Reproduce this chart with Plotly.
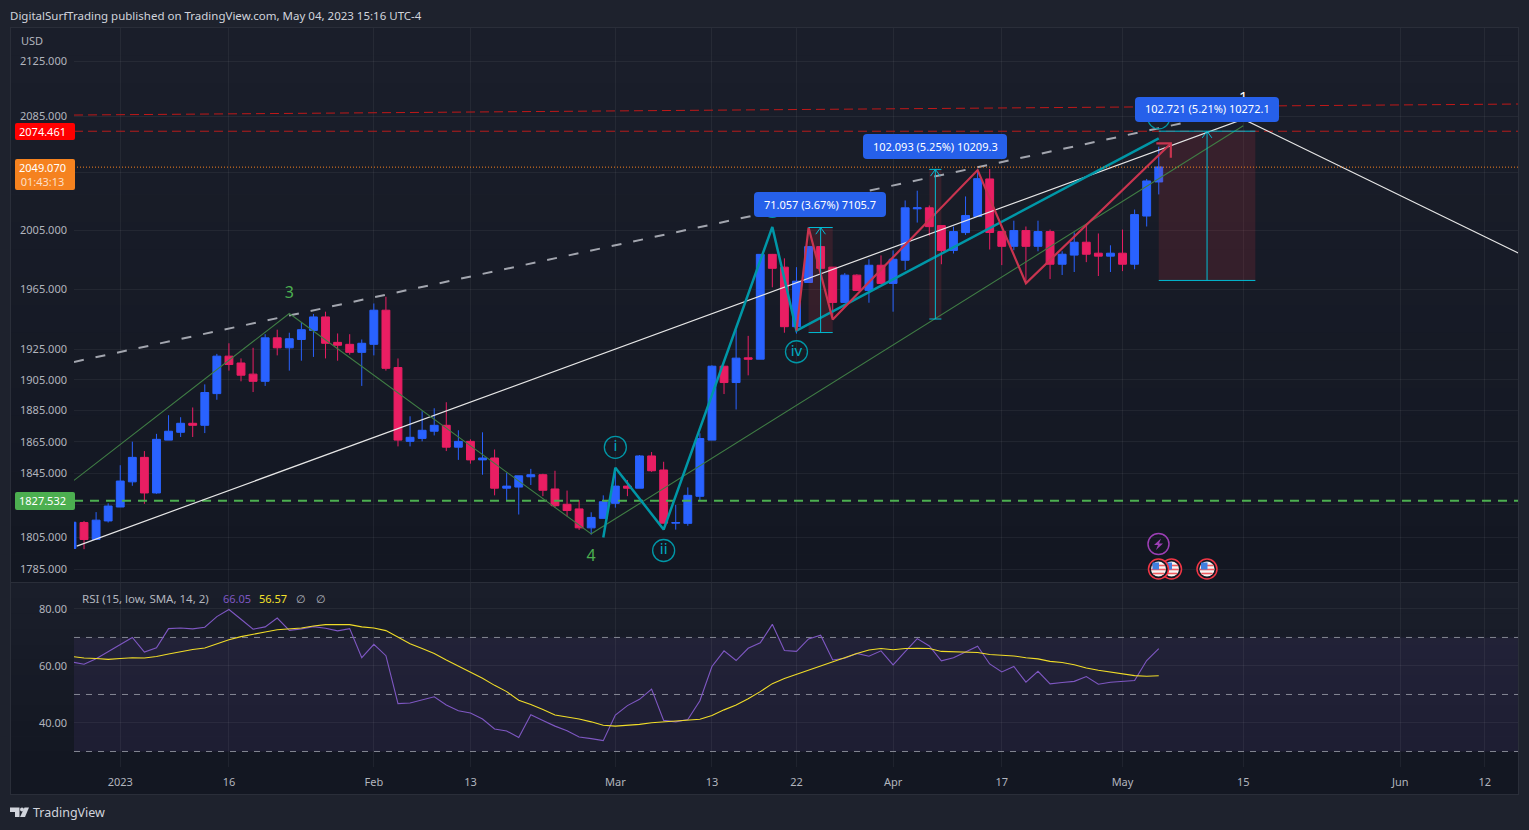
import math
import plotly.graph_objects as go
from plotly.subplots import make_subplots

W, H = 1529, 830
FONT = "Noto Sans"

# price bars, session 0 is the first bar of 2023
sessions = list(range(-4, 87))
opens = [1798, 1814, 1803.5, 1815, 1823.7, 1839.5, 1855, 1832.5, 1866, 1871, 1876.8, 1875.5, 1896, 1920.5, 1916,
         1908.7, 1904, 1932.6, 1926, 1931.5, 1937.5, 1946.5, 1929.6, 1928.3, 1923, 1928.3, 1951, 1913,
         1865.2, 1867.1, 1871.7, 1875.5, 1861.5, 1865.2, 1853.4, 1854.6, 1835.5, 1836.2, 1842.7, 1844, 1835,
         1825.4, 1822.5, 1810.7, 1816.6, 1826, 1836.8, 1835.5, 1855.9, 1847, 1813.6, 1813.5, 1830.4,
         1866, 1913.9, 1903.2, 1919.4, 1918.5, 1988.7, 1980, 1940, 1969.6, 1994, 1980, 1956.2, 1974.6, 1964.3,
         1981.3, 1969, 1984.7, 2020, 2020.7, 2008.4, 1991.4, 2003.6, 2014.7, 2040.8, 2004.3, 1994.2, 2005,
         1994.2, 2004.3, 1982, 1988.2, 1997, 1989.5, 1987.5, 1989.5, 1982, 2015, 2038.7]
highs = [1814.2, 1815, 1820.5, 1826, 1850, 1865, 1859, 1870, 1882, 1880.7, 1887, 1902, 1922, 1929, 1919,
         1926, 1935, 1938, 1936, 1943, 1948.5, 1950, 1935.5, 1935, 1931.5, 1955.5, 1960, 1919,
         1881.3, 1884.6, 1886.5, 1890.4, 1872.3, 1866.5, 1871, 1860, 1845.2, 1843.3, 1847.7, 1844.6, 1846.5,
         1834, 1828, 1820.4, 1831, 1846.5, 1840.6, 1856.5, 1858.4, 1852.2, 1825, 1836, 1870.4,
         1914.5, 1913.9, 1938, 1933.9, 1988.7, 1989, 1986, 1980, 1994, 1994, 1980, 1976, 1975.2, 1985.4,
         1988, 1991.4, 2025.8, 2032.6, 2022.3, 2008.4, 2007.7, 2028.6, 2047.7, 2047.8, 2004.3, 2011.8, 2007.8,
         2011.8, 2005.7, 1990.8, 2003.7, 2008.4, 2003, 1994.9, 2005.7, 2019.5, 2040.8, 2063.5]
lows = [1798, 1797.5, 1803.5, 1814, 1823.7, 1837, 1825.7, 1832, 1866, 1868, 1868, 1870.5, 1892, 1911, 1904,
        1897, 1901, 1921, 1911, 1917.5, 1920, 1919, 1917.5, 1921.5, 1901, 1921, 1911, 1862,
        1862, 1865.2, 1869, 1859, 1853.4, 1851, 1844, 1831, 1827.8, 1819, 1837.5, 1830.5, 1823.3,
        1817.8, 1809.4, 1806.5, 1816.6, 1823.3, 1830.5, 1835.5, 1845.8, 1813.6, 1809.6, 1812, 1827.8,
        1866, 1895.7, 1885.7, 1907.9, 1918.5, 1966.4, 1936, 1935.4, 1969.6, 1979.2, 1944.7, 1956.2, 1964.3, 1956,
        1969, 1950, 1978, 2010.5, 2001.5, 1982, 1989.3, 2002, 2014.7, 1992, 1981.4, 1991.5, 1969.3,
        1990.8, 1972, 1974.7, 1976.7, 1983.4, 1974, 1976.7, 1977.3, 1978.6, 2007.8, 2030]
closes = [1814.2, 1803.5, 1815.5, 1824.3, 1840, 1855, 1832.5, 1866.5, 1871.7, 1876.8, 1875.5, 1896.7, 1920.5, 1915, 1908,
          1904, 1932.6, 1926, 1932, 1938, 1946.5, 1929, 1927.7, 1923, 1929, 1951, 1912.5, 1866,
          1867.8, 1872.3, 1875.5, 1861.5, 1865.2, 1853.4, 1854.6, 1835.5, 1836.8, 1843.3, 1844, 1834.2, 1824.5,
          1821.5, 1810.7, 1817.2, 1827, 1836.8, 1835.5, 1855.9, 1846.5, 1813.6, 1814, 1831, 1867,
          1913.9, 1903.2, 1919.2, 1918.5, 1988.7, 1979.2, 1940, 1970.5, 1994, 1979.2, 1956.2, 1974.6, 1964.3, 1981.3,
          1969, 1985.4, 2020.7, 2020.7, 2007.7, 1991.4, 2004.3, 2015.4, 2041, 2003.7, 1994.2, 2005, 1994.2,
          2004.3, 1982, 1988.8, 1997, 1988.8, 1987.5, 1989.5, 1982, 2016, 2039.4, 2049.2]

# RSI pane
rsi_values = [61.4, 60.6, 62.5, 65, 67.5, 70, 64.9, 66.4, 73.1, 73.3, 73, 73.6, 77.3, 79.8, 76.4, 72.9, 73.7, 76.8,
              72.5, 73, 73.8, 73.2, 72.3, 73.1, 62.9, 67.6, 63.6, 46.8, 47, 48, 49.2, 46.3, 44.3, 43.5, 41.4, 37.9,
              37.2, 34.9, 42.9, 40.9, 38.9, 37.3, 35.1, 34.5, 33.8, 42.8, 46.1, 48.3, 51.9, 40.9, 40.4, 41.2, 47.8,
              59.8, 65.3, 61.9, 66.2, 68.1, 74.6, 65.4, 65.1, 69.5, 70.8, 62.1, 62.7, 64.4, 63.4, 65.3, 60.4, 65,
              69.6, 67, 61.8, 62.9, 64.9, 66.9, 60.7, 57.9, 59.8, 54.3, 58.1, 53.7, 54.2, 54.6, 56.3, 53.6, 54.3,
              54.5, 54.9, 61.9, 66.05]
rsi_signal = [63.3, 62.8, 62.6, 62.3, 62.6, 62.9, 62.8, 63.3, 64.2, 65, 65.8, 66.3, 67.7, 69.2, 70.3, 71.2, 71.9,
              72.7, 73.1, 73.3, 74, 74.5, 74.5, 74.5, 73.7, 73.3, 72.4, 70.2, 67.8, 66.1, 64.4, 62.1, 60, 58, 55.7,
              53.2, 51, 48, 46.5, 44.7, 42.8, 42.1, 41.4, 40.4, 39.2, 38.9, 39.2, 39.5, 40.1, 40.4, 40.5, 40.9, 41.3,
              42.6, 44.6, 46.3, 48.5, 51, 53.8, 55.6, 57.1, 58.6, 60, 61.5, 62.9, 64.4, 65.6, 66.1, 65.7, 66.1, 66.2,
              66.1, 65.1, 64.9, 64.9, 64.7, 64, 63.7, 63.5, 62.9, 62.5, 61.6, 61.2, 60.4, 59.3, 58.5, 57.9, 57.3,
              56.6, 56.4, 56.57]
rsi_levels = [70, 50, 30]

# axes
price_ticks = [2125, 2085, 2045, 2005, 1965, 1925, 1905, 1885, 1865, 1845, 1825, 1805, 1785]
price_labels = ["2125.000", "2085.000", "", "2005.000", "1965.000", "1925.000", "1905.000", "1885.000",
                "1865.000", "1845.000", "", "1805.000", "1785.000"]
rsi_ticks = [80, 60, 40]
rsi_labels = ["80.00", "60.00", "40.00"]
time_ticks = [0, 9, 21, 29, 41, 49, 56, 64, 73, 83, 93, 106, 113]
time_labels = ["2023", "16", "Feb", "13", "Mar", "13", "22", "Apr", "17", "May", "15", "Jun", "12"]
x_range = [-3.83, 115.75]
y_range = [1777.4, 2149.2]
rsi_range = [24.56, 89.1]

# drawings on the price pane
last_price = 2049.07
resistance = 2074.461
support = 1827.532
upper_red_x, upper_red_y = [-3.83, 115.75], [2086, 2093.9]
white_x, white_y = [-3.6, 93, 115.8], [1799.4, 2083.1, 1989.5]
grey_x, grey_y = [-3.83, 93], [1916.7, 2089.6]
green_x, green_y = [-3.83, 14, 39, 93], [1840.4, 1948.8, 1807, 2078.3]
teal_x, teal_y = [40, 41, 45, 54, 56, 86], [1804.7, 1848.4, 1809.7, 2007.5, 1937.4, 2069.4]
red_x, red_y = [56, 57, 59, 71, 75, 87], [1937.4, 2007.1, 1944.8, 2047, 1969.1, 2065.8]
red_head_x, red_head_y = [85.8, 87, 87], [2065.8, 2065.8, 2055.6]
measure_left = [57, 67, 86]
measure_right = [59, 68, 94]
measure_top = [2007.1, 2047.5, 2074.5]
measure_bottom = [1936.1, 1945.1, 1971.0]
measure_text = ["71.057 (3.67%) 7105.7", "102.093 (5.25%) 10209.3", "102.721 (5.21%) 10272.1"]
circle_x = [41, 45, 56, 54, 86]
circle_y = [1861.4, 1796.7, 1923.4, 2021.8, 2084]
circle_text = ["i", "ii", "iv", "", ""]
wave_x = [14, 39]
wave_y = [1961.8, 1793]
wave_text = ["3", "4"]

BG_OUT = "#1e222d"
BORDER = "#2a2e39"
GRID = "rgba(255,255,255,0.055)"
AXIS_TEXT = "#b2b5be"
UP = "#2962ff"
DOWN = "#e91e63"
TEAL = "#0097a7"
CYAN = "#00bcd4"
CALLOUT = "#2660ea"


def fx(x):
    return x / W


def fy(y):
    return 1 - y / H


def mix(c0, c1, t):
    return "rgb(%d,%d,%d)" % tuple(round(a + (b - a) * t) for a, b in zip(c0, c1))


def rounded(x0, y0, x1, y1, r):
    # path in pixels, turned into paper fractions
    pts = [
        f"M{fx(x0 + r)},{fy(y0)}", f"L{fx(x1 - r)},{fy(y0)}", f"Q{fx(x1)},{fy(y0)} {fx(x1)},{fy(y0 + r)}",
        f"L{fx(x1)},{fy(y1 - r)}", f"Q{fx(x1)},{fy(y1)} {fx(x1 - r)},{fy(y1)}", f"L{fx(x0 + r)},{fy(y1)}",
        f"Q{fx(x0)},{fy(y1)} {fx(x0)},{fy(y1 - r)}", f"L{fx(x0)},{fy(y0 + r)}", f"Q{fx(x0)},{fy(y0)} {fx(x0 + r)},{fy(y0)}", "Z",
    ]
    return " ".join(pts)


def paper_rect(x0, y0, x1, y1, color, layer="below"):
    return dict(type="rect", xref="paper", yref="paper", x0=fx(x0), x1=fx(x1), y0=fy(y1), y1=fy(y0),
                fillcolor=color, line_width=0, layer=layer)


def paper_line(x0, y0, x1, y1, color, width=1):
    return dict(type="line", xref="paper", yref="paper", x0=fx(x0), x1=fx(x1), y0=fy(y0), y1=fy(y1),
                line=dict(color=color, width=width), layer="above")


def label(x, y, text, color=AXIS_TEXT, size=11, anchor="left", **kw):
    return dict(xref="paper", yref="paper", x=fx(x), y=fy(y), text=text, showarrow=False, xanchor=anchor,
                yanchor="middle", font=dict(family=FONT, size=size, color=color), **kw)


fig = make_subplots(rows=2, cols=1)

shapes = []
annotations = []

# frame and the two pane gradients
shapes.append(paper_rect(10, 27, 1519, 795, BORDER))
top_col, bottom_col = (26, 30, 42), (19, 23, 34)
for n in range(20):
    y0 = 28 + n * (582 - 28) / 20
    shapes.append(paper_rect(11, y0, 1518, y0 + (582 - 28) / 20 + 0.5, mix(top_col, bottom_col, n / 19)))
for n in range(12):
    y0 = 583 + n * (767 - 583) / 12
    shapes.append(paper_rect(11, y0, 1518, y0 + (767 - 583) / 12 + 0.5, mix(top_col, bottom_col, n / 11)))
shapes.append(paper_rect(11, 767, 1518, 794, "rgb(19,23,34)"))
shapes.append(paper_rect(11, 582, 1518, 583, BORDER))


def add_line(xs, ys, color, width=1, dash=None, row=1):
    fig.add_trace(go.Scatter(x=xs, y=ys, mode="lines", line=dict(color=color, width=width, dash=dash),
                             hoverinfo="skip", showlegend=False), row=row, col=1)


# measure backgrounds sit behind the candles
for left, right, top, bottom in zip(measure_left, measure_right, measure_top, measure_bottom):
    fig.add_trace(go.Scatter(x=[left, right, right, left, left], y=[top, top, bottom, bottom, top], mode="lines",
                             fill="toself", fillcolor="rgba(242,54,69,0.14)", line_width=0, hoverinfo="skip",
                             showlegend=False), row=1, col=1)

add_line(x_range, [support, support], "#4caf50", 2, "9px,7px")
add_line(x_range, [resistance, resistance], "#b71c1c", 1, "9px,5px")
add_line(upper_red_x, upper_red_y, "#c01818", 1, "9px,5px")
add_line(white_x, white_y, "#e6e6e6", 1.2)
add_line(grey_x, grey_y, "#a3a6af", 2, "10px,12px")

fig.add_trace(go.Candlestick(x=sessions, open=opens, high=highs, low=lows, close=closes,
                             increasing=dict(line=dict(color=UP, width=1), fillcolor=UP),
                             decreasing=dict(line=dict(color=DOWN, width=1), fillcolor=DOWN),
                             whiskerwidth=0, hoverinfo="skip", showlegend=False), row=1, col=1)

add_line(green_x, green_y, "#3f7d44", 1.1)
add_line(teal_x, teal_y, TEAL, 2.5)
add_line(red_x, red_y, "#c9344f", 2.2)
add_line(red_head_x, red_head_y, "#c9344f", 2.2)
add_line(x_range, [last_price, last_price], "#f5821f", 1, "1px,2px")

# measure ticks and arrows
for left, right, top, bottom in zip(measure_left, measure_right, measure_top, measure_bottom):
    mid = (left + right) / 2
    add_line([left, right], [top, top], CYAN, 1)
    add_line([left, right], [bottom, bottom], CYAN, 1)
    add_line([mid, mid], [bottom, top], CYAN, 1)
    add_line([mid - 0.4, mid, mid + 0.4], [top * 0.9977, top, top * 0.9977], CYAN, 1)

fig.add_trace(go.Scatter(x=circle_x, y=circle_y, mode="markers+text", text=circle_text, textposition="middle center",
                         textfont=dict(family=FONT, size=15, color="#00acc1"),
                         marker=dict(size=22, color="rgba(0,0,0,0)", line=dict(color=TEAL, width=1.3)),
                         hoverinfo="skip", showlegend=False), row=1, col=1)
fig.add_trace(go.Scatter(x=wave_x, y=wave_y, mode="text", text=wave_text, textposition="middle center",
                         textfont=dict(family=FONT, size=16, color="#4caf50"),
                         hoverinfo="skip", showlegend=False), row=1, col=1)
fig.add_trace(go.Scatter(x=[93], y=[2098.3], mode="text", text=["1"], textposition="middle center",
                         textfont=dict(family=FONT, size=15, color="#ffffff"),
                         hoverinfo="skip", showlegend=False), row=1, col=1)

# RSI pane
for level in rsi_levels:
    add_line(x_range, [level, level], "rgba(150,153,164,0.85)", 1, "6px,6px", row=2)
add_line(sessions, rsi_values, "#7e57c2", 1.1, row=2)
add_line(sessions, rsi_signal, "#f0dc28", 1.1, row=2)
shapes.append(dict(type="rect", xref="x2 domain", yref="y2", x0=0, x1=1, y0=rsi_levels[2], y1=rsi_levels[0],
                   fillcolor="rgba(126,87,194,0.1)", line_width=0, layer="below"))

# callouts above the drawings
boxes = [(754, 192, 886, 217), (863, 134, 1007, 159), (1135, 97, 1279, 122)]
for (x0, y0, x1, y1), text in zip(boxes, measure_text):
    shapes.append(dict(type="path", path=rounded(x0, y0, x1, y1, 4), xref="paper", yref="paper",
                       fillcolor=CALLOUT, line_width=0, layer="above"))
    annotations.append(label((x0 + x1) / 2, (y0 + y1) / 2 - 0.5, text, "#ffffff", 11, "center"))

# price labels on the axis
shapes.append(dict(type="path", path=rounded(15, 123, 75, 140, 2), xref="paper", yref="paper",
                   fillcolor="#ff0000", line_width=0, layer="above"))
annotations.append(label(42, 131.5, "2074.461", "#ffffff", 11, "center"))
shapes.append(dict(type="path", path=rounded(15, 159, 75, 190, 2), xref="paper", yref="paper",
                   fillcolor="#f5821f", line_width=0, layer="above"))
annotations.append(label(42, 174.5, "2049.070<br><span style='color:rgba(255,255,255,0.75)'>01:43:13</span>",
                         "#ffffff", 11, "center"))
shapes.append(dict(type="path", path=rounded(15, 492, 75, 510, 2), xref="paper", yref="paper",
                   fillcolor="#4caf50", line_width=0, layer="above"))
annotations.append(label(42, 500.5, "1827.532", "#ffffff", 11, "center"))

# event icons
shapes.append(dict(type="circle", xref="paper", yref="paper", x0=fx(1148), x1=fx(1169), y0=fy(554.5), y1=fy(533.5),
                   line=dict(color="#9c3fb5", width=1.5), fillcolor="rgba(0,0,0,0)", layer="above"))
shapes.append(dict(type="path", xref="paper", yref="paper", line_width=0, fillcolor="#9c3fb5", layer="above",
                   path=f"M{fx(1161)},{fy(538.5)} L{fx(1154)},{fy(545)} L{fx(1158)},{fy(545)} L{fx(1156)},{fy(550)} "
                        f"L{fx(1163)},{fy(543.5)} L{fx(1159)},{fy(543.5)} Z"))
for cx in [1171.5, 1158.5, 1207]:
    shapes.append(dict(type="circle", xref="paper", yref="paper", x0=fx(cx - 10), x1=fx(cx + 10), y0=fy(579), y1=fy(559),
                       line=dict(color="#f23645", width=1.5), fillcolor="#131722", layer="above"))
    shapes.append(dict(type="circle", xref="paper", yref="paper", x0=fx(cx - 7.5), x1=fx(cx + 7.5), y0=fy(576.5), y1=fy(561.5),
                       line_width=0, fillcolor="#f4f4f4", layer="above"))
    for sy, half in [(565.5, 6.6), (569.5, 7.4), (573.5, 5.6)]:
        shapes.append(paper_line(cx - half, sy, cx + half, sy, "#ef5a5f", 1.6))
    shapes.append(paper_rect(cx - 6, 562.5, cx + 0.5, 569.5, "#3f7fe0", "above"))

# text around the chart
annotations.append(label(8, 15, "DigitalSurfTrading published on TradingView.com, May 04, 2023 15:16 UTC-4", "#d1d4dc", 11.5))
annotations.append(label(18.5, 41, "USD", AXIS_TEXT, 11))
annotations.append(label(80, 598, "RSI (15, low, SMA, 14, 2)", AXIS_TEXT, 11.5))
annotations.append(label(221, 598, "66.05", "#7e57c2", 11))
annotations.append(label(257, 598, "56.57", "#f5e12a", 11))
annotations.append(label(294, 598, "∅", AXIS_TEXT, 11))
annotations.append(label(314, 598, "∅", AXIS_TEXT, 11))
annotations.append(label(31, 812.5, "TradingView", "#d1d4dc", 12.5))

# logo
shapes.append(dict(type="path", xref="paper", yref="paper", line_width=0, fillcolor="#d1d4dc", layer="above",
                   path=f"M{fx(10)},{fy(807.5)} L{fx(19.5)},{fy(807.5)} L{fx(19.5)},{fy(817)} L{fx(15)},{fy(817)} "
                        f"L{fx(15)},{fy(812)} L{fx(10)},{fy(812)} Z"))
shapes.append(dict(type="circle", xref="paper", yref="paper", line_width=0, fillcolor="#d1d4dc", layer="above",
                   x0=fx(20), x1=fx(24), y0=fy(811.5), y1=fy(807.5)))
shapes.append(dict(type="path", xref="paper", yref="paper", line_width=0, fillcolor="#d1d4dc", layer="above",
                   path=f"M{fx(24.5)},{fy(807.5)} L{fx(29)},{fy(807.5)} L{fx(25)},{fy(817)} L{fx(20)},{fy(817)} Z"))

fig.update_layout(width=W, height=H, margin=dict(l=0, r=0, t=0, b=0), paper_bgcolor=BG_OUT,
                  plot_bgcolor="rgba(0,0,0,0)", showlegend=False, shapes=shapes, annotations=annotations,
                  boxgap=0.07, font=dict(family=FONT, color=AXIS_TEXT, size=11))

axis_x = dict(range=x_range, domain=[fx(74), fx(1518)], tickmode="array", tickvals=time_ticks, showgrid=True,
              gridcolor=GRID, gridwidth=1, zeroline=False, showline=False, ticks="",
              rangeslider=dict(visible=False))
fig.update_xaxes(**axis_x, showticklabels=False, row=1, col=1)
fig.update_xaxes(**axis_x, ticktext=time_labels, showticklabels=True, ticklabelstandoff=7,
                 tickfont=dict(family=FONT, size=11, color=AXIS_TEXT), row=2, col=1)
fig.update_yaxes(type="log", range=[math.log10(y_range[0]), math.log10(y_range[1])], domain=[fy(582), fy(28)],
                 tickmode="array", tickvals=price_ticks, ticktext=price_labels, showgrid=True, gridcolor=GRID,
                 zeroline=False, showline=False, ticks="", ticklabelstandoff=6,
                 tickfont=dict(family=FONT, size=11, color=AXIS_TEXT), row=1, col=1)
fig.update_yaxes(range=rsi_range, domain=[fy(767), fy(583)], tickmode="array", tickvals=rsi_ticks, ticktext=rsi_labels,
                 showgrid=True, gridcolor=GRID, zeroline=False, showline=False, ticks="", ticklabelstandoff=6,
                 tickfont=dict(family=FONT, size=11, color=AXIS_TEXT), row=2, col=1)

fig.write_html("out.html", config=dict(displayModeBar=False),
               post_script="document.body.style.margin='0';document.body.style.background='#1e222d';")
